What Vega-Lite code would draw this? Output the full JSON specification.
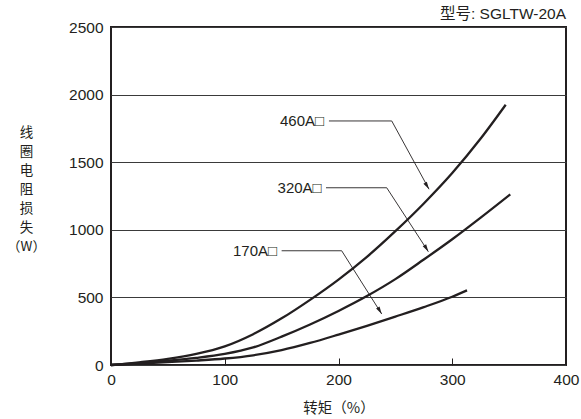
{
  "$schema": "https://vega.github.io/schema/vega-lite/v6.json",
  "width": 455,
  "height": 338,
  "autosize": {"type": "none"},
  "padding": {"left": 111, "top": 27, "right": 15, "bottom": 54},
  "background": "white",
  "title": {
    "text": "型号: SGLTW-20A",
    "anchor": "end",
    "frame": "group",
    "offset": 5,
    "dy": 7,
    "fontSize": 15.5,
    "fontWeight": "normal",
    "font": "Liberation Sans, Noto Sans CJK SC",
    "color": "#231f20"
  },
  "config": {
    "view": {"stroke": "#231f20", "strokeWidth": 2},
    "axis": {
      "labelFont": "Liberation Sans",
      "labelFontSize": 15.5,
      "labelColor": "#231f20",
      "titleFont": "Noto Sans CJK SC",
      "titleFontWeight": "normal",
      "titleColor": "#231f20"
    }
  },
  "datasets": {
    "curves": [
      {"series": "460A", "torque": 0, "loss": 0},
      {"series": "460A", "torque": 25, "loss": 20},
      {"series": "460A", "torque": 50, "loss": 45},
      {"series": "460A", "torque": 75, "loss": 82},
      {"series": "460A", "torque": 100, "loss": 138},
      {"series": "460A", "torque": 125, "loss": 228},
      {"series": "460A", "torque": 150, "loss": 345},
      {"series": "460A", "torque": 175, "loss": 482},
      {"series": "460A", "torque": 200, "loss": 632},
      {"series": "460A", "torque": 225, "loss": 800},
      {"series": "460A", "torque": 250, "loss": 990},
      {"series": "460A", "torque": 275, "loss": 1195},
      {"series": "460A", "torque": 300, "loss": 1420},
      {"series": "460A", "torque": 325, "loss": 1675},
      {"series": "460A", "torque": 347, "loss": 1925},
      {"series": "320A", "torque": 0, "loss": 0},
      {"series": "320A", "torque": 25, "loss": 15},
      {"series": "320A", "torque": 50, "loss": 32},
      {"series": "320A", "torque": 75, "loss": 53},
      {"series": "320A", "torque": 100, "loss": 82},
      {"series": "320A", "torque": 125, "loss": 130},
      {"series": "320A", "torque": 150, "loss": 210},
      {"series": "320A", "torque": 175, "loss": 300},
      {"series": "320A", "torque": 200, "loss": 400},
      {"series": "320A", "torque": 225, "loss": 510},
      {"series": "320A", "torque": 250, "loss": 635},
      {"series": "320A", "torque": 275, "loss": 780},
      {"series": "320A", "torque": 300, "loss": 930},
      {"series": "320A", "torque": 325, "loss": 1090},
      {"series": "320A", "torque": 351, "loss": 1262},
      {"series": "170A", "torque": 0, "loss": 0},
      {"series": "170A", "torque": 25, "loss": 10},
      {"series": "170A", "torque": 50, "loss": 21},
      {"series": "170A", "torque": 75, "loss": 33},
      {"series": "170A", "torque": 100, "loss": 48},
      {"series": "170A", "torque": 125, "loss": 72},
      {"series": "170A", "torque": 150, "loss": 110},
      {"series": "170A", "torque": 175, "loss": 163},
      {"series": "170A", "torque": 200, "loss": 225},
      {"series": "170A", "torque": 225, "loss": 290},
      {"series": "170A", "torque": 250, "loss": 358},
      {"series": "170A", "torque": 275, "loss": 428},
      {"series": "170A", "torque": 300, "loss": 505},
      {"series": "170A", "torque": 313, "loss": 552}
    ],
    "labels": [
      {"label": "460A□", "x": 187.3, "y": 1805},
      {"label": "320A□", "x": 185.2, "y": 1311},
      {"label": "170A□", "x": 146, "y": 845}
    ],
    "leaders": [
      {"series": "460A", "x": 191.6, "y": 1805, "x2": 246.8, "y2": 1805},
      {"series": "460A", "x": 246.8, "y": 1805, "x2": 279.6, "y2": 1300},
      {"series": "320A", "x": 189, "y": 1311, "x2": 242.4, "y2": 1311},
      {"series": "320A", "x": 242.4, "y": 1311, "x2": 279, "y2": 838},
      {"series": "170A", "x": 150, "y": 845, "x2": 202.8, "y2": 845},
      {"series": "170A", "x": 202.8, "y": 845, "x2": 238, "y2": 377}
    ],
    "tips": [
      {"series": "460A", "x": 279.6, "y": 1300},
      {"series": "320A", "x": 279, "y": 838},
      {"series": "170A", "x": 238, "y": 377}
    ]
  },
  "layer": [
    {
      "data": {"name": "curves"},
      "mark": {"type": "line", "interpolate": "monotone", "color": "#231f20", "strokeWidth": 2.3},
      "encoding": {
        "x": {
          "field": "torque", "type": "quantitative",
          "scale": {"domain": [0, 400], "nice": false},
          "axis": {
            "values": [0, 100, 200, 300, 400],
            "format": "d",
            "labelFlush": false,
            "grid": false, "domain": false,
            "ticks": true, "tickSize": -7, "tickColor": "#231f20", "tickWidth": 1,
            "labelPadding": 14,
            "title": "转矩（%）",
            "titleFontSize": 14.5,
            "titleY": 43, "titleBaseline": "middle"
          }
        },
        "y": {
          "field": "loss", "type": "quantitative",
          "scale": {"domain": [0, 2500], "nice": false},
          "axis": {
            "values": [0, 500, 1000, 1500, 2000, 2500],
            "format": "d",
            "labelFlush": false,
            "grid": true, "gridColor": "#3a3a3a", "gridWidth": 1,
            "domain": false, "ticks": false,
            "labelPadding": 8,
            "title": ["线", "圈", "电", "阻", "损", "失", "（W）"],
            "titleAngle": 0,
            "titleFontSize": 13.5,
            "titleLineHeight": 19,
            "titleAlign": "center",
            "titleBaseline": "middle",
            "titleX": -85,
            "titleY": 105
          }
        },
        "detail": {"field": "series"}
      }
    },
    {
      "data": {"name": "leaders"},
      "mark": {"type": "rule", "color": "#231f20", "strokeWidth": 0.9},
      "encoding": {
        "x": {"field": "x", "type": "quantitative"},
        "y": {"field": "y", "type": "quantitative"},
        "x2": {"field": "x2"},
        "y2": {"field": "y2"}
      }
    },
    {
      "data": {"name": "tips"},
      "mark": {
        "type": "point", "filled": true, "opacity": 1,
        "shape": "M0,0L0.45,1.7L-0.45,1.7Z",
        "size": 80, "angle": 149, "color": "#231f20"
      },
      "encoding": {
        "x": {"field": "x", "type": "quantitative"},
        "y": {"field": "y", "type": "quantitative"}
      }
    },
    {
      "data": {"name": "labels"},
      "mark": {
        "type": "text", "align": "right", "baseline": "middle",
        "font": "Liberation Sans, Noto Sans CJK SC", "fontSize": 15, "color": "#231f20"
      },
      "encoding": {
        "x": {"field": "x", "type": "quantitative"},
        "y": {"field": "y", "type": "quantitative"},
        "text": {"field": "label"}
      }
    }
  ]
}
